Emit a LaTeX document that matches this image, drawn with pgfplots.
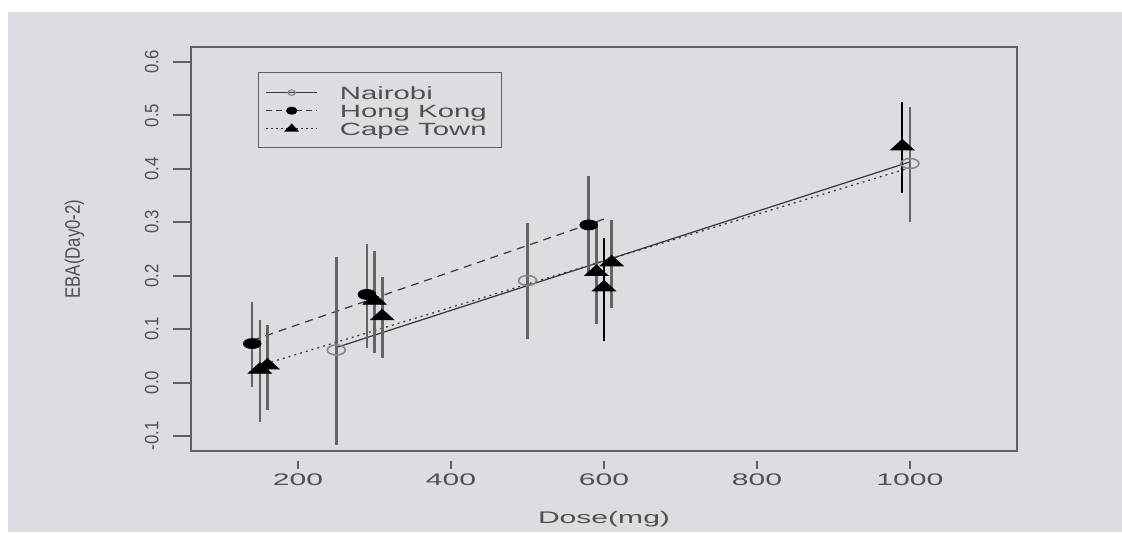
\documentclass[border=0pt]{standalone}
\usepackage{pgfplots}
\pgfplotsset{compat=1.18}
\usepackage{pgfplotstable}
\usepackage{fontspec}
\setmainfont{Liberation Sans}
\definecolor{bg}{RGB}{220,221,224}
\definecolor{txt}{RGB}{80,80,80}
\definecolor{frame}{RGB}{95,95,95}
\definecolor{barg}{RGB}{100,100,100}
\definecolor{nair}{RGB}{135,135,135}
\definecolor{ln}{RGB}{55,55,55}
\newcommand\fs{\fontsize{8.4pt}{10pt}\selectfont}
\newcommand\lfs{\fontsize{8.85pt}{10pt}\selectfont}

\pgfplotstableread{
x y lo hi
250 0.061 -0.116 0.235
500 0.191 0.081 0.298
1000 0.410 0.300 0.516
}\nairobi
\pgfplotstableread{
x y lo hi
140 0.073 -0.008 0.151
290 0.165 0.064 0.259
580 0.295 0.205 0.386
}\hongkong
\pgfplotstableread{
x y lo hi
150 0.024 -0.074 0.117
160 0.032 -0.051 0.107
300 0.153 0.055 0.247
310 0.124 0.046 0.198
590 0.207 0.109 0.300
610 0.225 0.139 0.304
}\capetownA
\pgfplotstableread{
x y lo hi
600 0.178 0.078 0.270
990 0.442 0.354 0.525
}\capetownB

\begin{document}
\begin{tikzpicture}
\fill[white] (-95.5pt,-40.5pt) rectangle (465.5pt,225.5pt);
\fill[bg] (-91.5pt,-40.5pt) rectangle (465.5pt,219.5pt);
\begin{axis}[
  at={(0pt,0pt)}, anchor=south west,
  scale only axis, width=413pt, height=202pt,
  xmin=60, xmax=1140, ymin=-0.128, ymax=0.628,
  axis line style={frame, line width=0.9pt},
  tick align=outside, xtick pos=bottom, ytick pos=left,
  major tick length=9pt,
  tick style={frame, line width=0.9pt},
  xtick style={dash pattern=on 4pt off 20pt},
  xtick={200,400,600,800,1000},
  xticklabels={\scalebox{1.79}[1]{200},\scalebox{1.79}[1]{400},\scalebox{1.79}[1]{600},\scalebox{1.79}[1]{800},\scalebox{1.79}[1]{1000}},
  ytick={-0.1,0,0.1,0.2,0.3,0.4,0.5,0.6},
  yticklabels={\scalebox{1}[1.15]{-0.1},\scalebox{1}[1.15]{0.0},\scalebox{1}[1.15]{0.1},\scalebox{1}[1.15]{0.2},\scalebox{1}[1.15]{0.3},\scalebox{1}[1.15]{0.4},\scalebox{1}[1.15]{0.5},\scalebox{1}[1.15]{0.6}},
  xticklabel style={font=\fs, text=txt, anchor=base, yshift=-8.35pt},
  yticklabel style={font=\fs, text=txt, xshift=-7.35pt, rotate=90, anchor=base},
  xlabel={\scalebox{1.79}[1]{Dose(mg)}},
  ylabel={\scalebox{1}[1.25]{EBA(Day0-2)}},
  every axis x label/.style={at={(rel axis cs:0.5,0)}, anchor=base, yshift=-36pt, font=\fs, text=txt},
  every axis y label/.style={at={(rel axis cs:0,0.5)}, xshift=-55.5pt, rotate=90, anchor=base, font=\fs, text=txt},
  legend style={at={(rel axis cs:0.0811,0.938)}, anchor=north west,
    draw=frame, line width=0.6pt, fill=none,
    inner xsep=3.5pt, inner ysep=5.1pt, row sep=0pt,
    nodes={inner sep=0pt, text height=7.6pt, text depth=0.65pt, text=txt, font=\lfs}},
  legend cell align=left,
  legend image code/.code={
    \draw[mark repeat=2, mark phase=2, #1] plot coordinates {(0pt,0pt) (12.75pt,0pt) (25.5pt,0pt)};
    \path (0pt,-3.2pt) (36.5pt,4.6pt);
  },
]
% fitted lines
\addplot[ln, line width=0.6pt, forget plot] coordinates {(250,0.0657) (1000,0.413)};
\addplot[ln, line width=0.6pt, dash pattern=on 4pt off 3pt, forget plot] coordinates {(140,0.079) (600,0.306)};
\addplot[ln, line width=0.6pt, dash pattern=on 1pt off 2pt, forget plot] coordinates {(150,0.032) (1000,0.402)};
% data with error bars
\addplot[only marks, mark=o, mark size=2.5pt, mark options={draw=nair, line width=0.8pt, xscale=1.8, solid}, forget plot,
  error bars/.cd, y dir=both, y explicit, error mark=none, error bar style={barg, line width=1.3pt}]
  table[x=x, y=y, y error plus expr=\thisrow{hi}-\thisrow{y}, y error minus expr=\thisrow{y}-\thisrow{lo}] {\nairobi};
\addplot[only marks, mark=*, mark size=2.5pt, mark options={draw=black, fill=black, xscale=1.77, solid}, forget plot,
  error bars/.cd, y dir=both, y explicit, error mark=none, error bar style={barg, line width=1.3pt}]
  table[x=x, y=y, y error plus expr=\thisrow{hi}-\thisrow{y}, y error minus expr=\thisrow{y}-\thisrow{lo}] {\hongkong};
\addplot[only marks, mark=triangle*, mark size=3.5pt, mark options={draw=black, fill=black, xscale=1.9, solid}, forget plot,
  error bars/.cd, y dir=both, y explicit, error mark=none, error bar style={barg, line width=1.3pt}]
  table[x=x, y=y, y error plus expr=\thisrow{hi}-\thisrow{y}, y error minus expr=\thisrow{y}-\thisrow{lo}] {\capetownA};
\addplot[only marks, mark=triangle*, mark size=3.5pt, mark options={draw=black, fill=black, xscale=1.9, solid}, forget plot,
  error bars/.cd, y dir=both, y explicit, error mark=none, error bar style={black, line width=1.2pt}]
  table[x=x, y=y, y error plus expr=\thisrow{hi}-\thisrow{y}, y error minus expr=\thisrow{y}-\thisrow{lo}] {\capetownB};
% legend
\addlegendimage{ln, solid, line width=0.6pt, mark=o, mark size=1.3pt, mark options={draw=nair, solid, line width=0.6pt, xscale=1.4}}
\addlegendentry{\scalebox{1.66}[1]{Nairobi}}
\addlegendimage{ln, line width=0.6pt, dash pattern=on 3pt off 2pt, mark=*, mark size=1.7pt, mark options={black, solid, xscale=1.5}}
\addlegendentry{\scalebox{1.66}[1]{Hong Kong}}
\addlegendimage{ln, line width=0.6pt, dash pattern=on 1pt off 1.5pt, mark=triangle*, mark size=2.2pt, mark options={black, solid, xscale=1.6}}
\addlegendentry{\scalebox{1.66}[1]{Cape Town}\hspace*{4pt}}
\end{axis}
\end{tikzpicture}
\end{document}
